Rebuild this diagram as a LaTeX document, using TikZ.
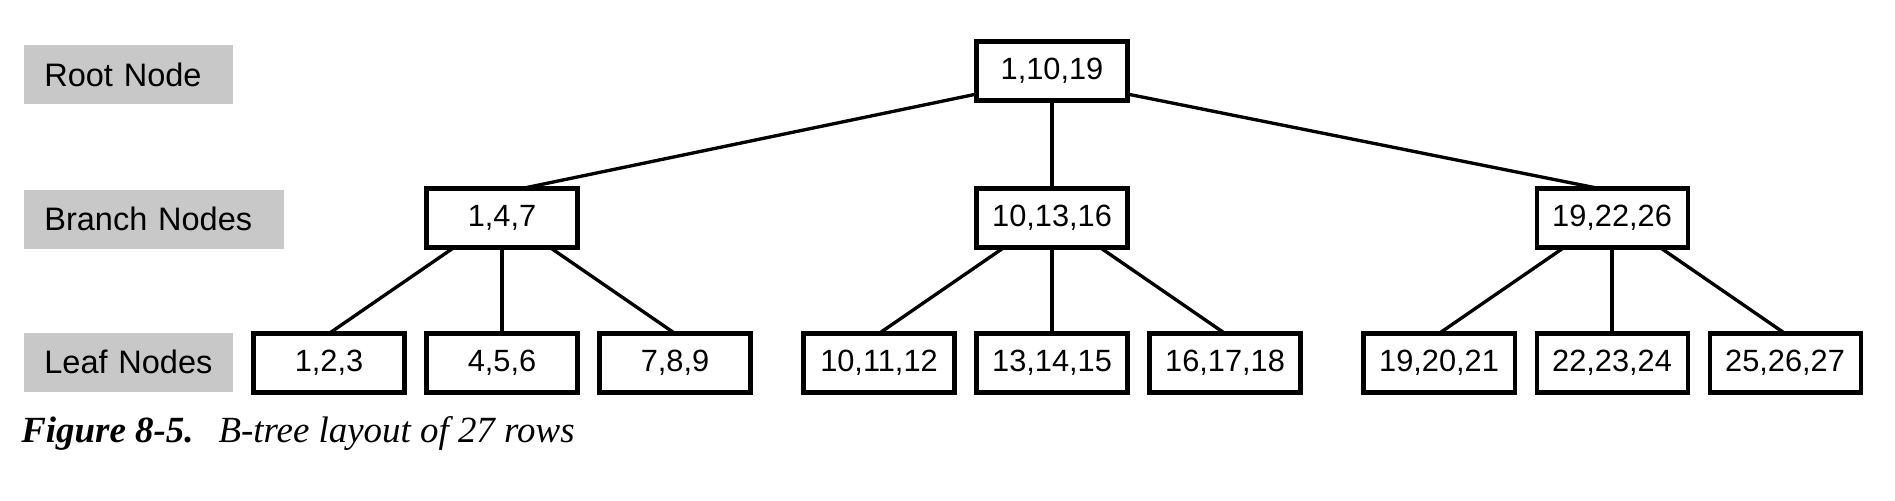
\documentclass[tikz,border=0pt]{standalone}
\usepackage{fontspec}
\setmainfont{Liberation Serif}
\newfontfamily\arial{Liberation Sans}
\usetikzlibrary{positioning}
\definecolor{labelgray}{RGB}{200,200,200}
\tikzstyle{levellabel} = [fill=labelgray, font=\arial\fontsize{18.5}{22}\selectfont, minimum height=1.18cm, inner xsep=0.4cm, align=left, anchor=west]
\tikzstyle{keybox} = [draw, line width=2.3pt, font=\arial\fontsize{17.5}{20}\selectfont, minimum width=3.02cm, minimum height=1.18cm, inner sep=0pt, outer sep=0pt]
\tikzstyle{link} = [line width=1.9pt]

\begin{document}
\begin{tikzpicture}
	\useasboundingbox (0,0) rectangle (37.9,-10.02);
	\node[levellabel, text width=3.38cm] (lroot) at (0.48,-1.49) {Root Node};
	\node[levellabel, text width=4.4cm] (lbranch) at (0.48,-4.38) {Branch Nodes};
	\node[levellabel, text width=3.38cm] (lleaf) at (0.48,-7.24) {Leaf Nodes};

	\node[keybox] (l1) at (6.58,-7.26) {1,2,3};
	\node[keybox, right=0.44cm of l1] (l2) {4,5,6};
	\node[keybox, right=0.44cm of l2] (l3) {7,8,9};
	\node[keybox, right=1.06cm of l3] (l4) {10,11,12};
	\node[keybox, right=0.44cm of l4] (l5) {13,14,15};
	\node[keybox, right=0.44cm of l5] (l6) {16,17,18};
	\node[keybox, right=1.26cm of l6] (l7) {19,20,21};
	\node[keybox, right=0.44cm of l7] (l8) {22,23,24};
	\node[keybox, right=0.44cm of l8] (l9) {25,26,27};

	\node[keybox, above=1.72cm of l2] (b1) {1,4,7};
	\node[keybox, above=1.72cm of l5] (b2) {10,13,16};
	\node[keybox, above=1.72cm of l8] (b3) {19,22,26};
	\node[keybox, above=1.76cm of b2] (root) {1,10,19};

	\draw[link] (root.197) -- ([xshift=0.4cm]b1.north);
	\draw[link] (root.south) -- (b2.north);
	\draw[link] (root.343) -- ([xshift=-0.26cm]b3.north);
	\foreach \b/\x/\y/\z in {b1/l1/l2/l3, b2/l4/l5/l6, b3/l7/l8/l9} {
		\draw[link] ([xshift=-0.96cm]\b.south) -- (\x.north);
		\draw[link] (\b.south) -- (\b.south |- \y.north);
		\draw[link] ([xshift=0.96cm]\b.south) -- (\z.north);
	}

	\node[anchor=base west, inner sep=0pt, font=\fontsize{21}{25}\selectfont] (caption) at (0.42,-8.85) {\textbf{\textit{Figure 8-5.}}\hspace{0.5cm}\textit{B-tree layout of 27 rows}};
\end{tikzpicture}
\end{document}
